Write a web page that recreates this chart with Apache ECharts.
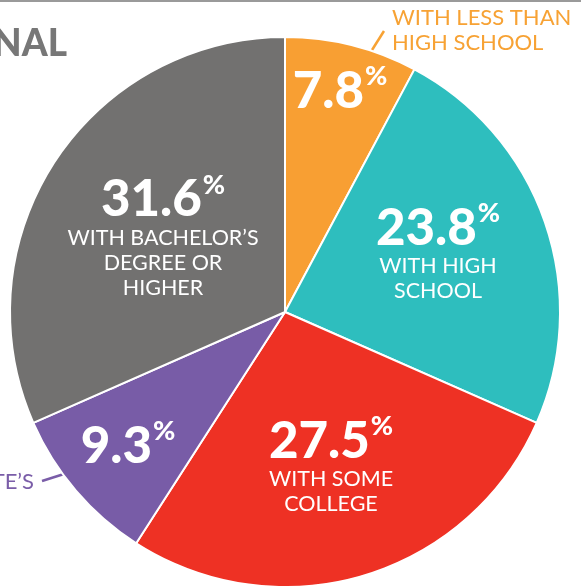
<!DOCTYPE html>
<html><head><meta charset="utf-8">
<script src="https://cdn.jsdelivr.net/npm/echarts@6/dist/echarts.min.js"></script>
<style>html,body{margin:0;padding:0;background:#fff}#c{width:581px;height:586px}</style>
</head><body><div id="c"></div>
<script>
const categories = ["WITH LESS THAN HIGH SCHOOL", "WITH HIGH SCHOOL", "WITH SOME COLLEGE", "WITH ASSOCIATE’S", "WITH BACHELOR’S DEGREE OR HIGHER"];
const values = [7.8, 23.8, 27.5, 9.3, 31.6];
const insideLines = [[], ["WITH HIGH", "SCHOOL"], ["WITH SOME", "COLLEGE"], [], ["WITH BACHELOR’S", "DEGREE OR", "HIGHER"]];
const colors = ["#F89F33", "#2EBEBE", "#EE3124", "#785CA7", "#727170"];

const labelPos = [[340, 90], [438, 252], [331, 465], [128, 445], [163, 236]];
const FONT = "Lato";
const chart = echarts.init(document.getElementById('c'), null, {renderer: 'canvas'});
chart.setOption({
  animation: false,
  series: [{
    type: 'pie',
    center: [285, 312],
    radius: 275,
    startAngle: 90,
    clockwise: true,
    avoidLabelOverlap: false,
    itemStyle: {borderColor: '#fff', borderWidth: 2},
    emphasis: {disabled: true},
    data: categories.map((c, i) => ({name: c, value: values[i], itemStyle: {color: colors[i]}})),
    label: {
      show: true, position: 'inside', color: '#fff', align: 'center',
      formatter: p => {
        let s = '{n|' + p.value + '}{p|%}';
        insideLines[p.dataIndex].forEach(l => { s += '\n{t|' + l + '}'; });
        return s;
      },
      rich: {
        n: {fontFamily: FONT, fontWeight: 900, fontSize: 51, color: '#fff', lineHeight: 54, verticalAlign: 'bottom'},
        p: {fontFamily: FONT, fontWeight: 900, fontSize: 27, color: '#fff', lineHeight: 54, verticalAlign: 'top', padding: [0,0,30,1]},
        t: {fontFamily: FONT, fontSize: 21.5, color: '#fff', lineHeight: 25}
      }
    },
    labelLayout: p => ({x: labelPos[p.dataIndex][0], y: labelPos[p.dataIndex][1], align: 'center', verticalAlign: 'middle'}),
    labelLine: {show: false}
  }],
  graphic: [
    {type: 'rect', shape: {x: 0, y: 0, width: 581, height: 2}, style: {fill: '#9a9a9a'}},
    {type: 'text', x: 67, y: 44, style: {text: 'NATIONAL', fontFamily: FONT, fontWeight: 900, fontSize: 37, fill: '#777', align: 'right', verticalAlign: 'middle'}},
    {type: 'text', x: 392, y: 30, style: {text: 'WITH LESS THAN\nHIGH SCHOOL', fontFamily: FONT, fontSize: 22, lineHeight: 25, fill: '#F7A234', align: 'left', verticalAlign: 'middle'}},
    {type: 'line', shape: {x1: 372, y1: 50, x2: 384, y2: 31}, style: {stroke: '#F7A234', lineWidth: 2.5}},
    {type: 'text', x: 34, y: 482, style: {text: 'WITH ASSOCIATE’S', fontFamily: FONT, fontSize: 22, fill: '#7A5DA8', align: 'right', verticalAlign: 'middle'}},
    {type: 'line', shape: {x1: 42, y1: 481, x2: 64, y2: 474}, style: {stroke: '#7A5DA8', lineWidth: 2.5}}
  ]
});
</script></body></html>
